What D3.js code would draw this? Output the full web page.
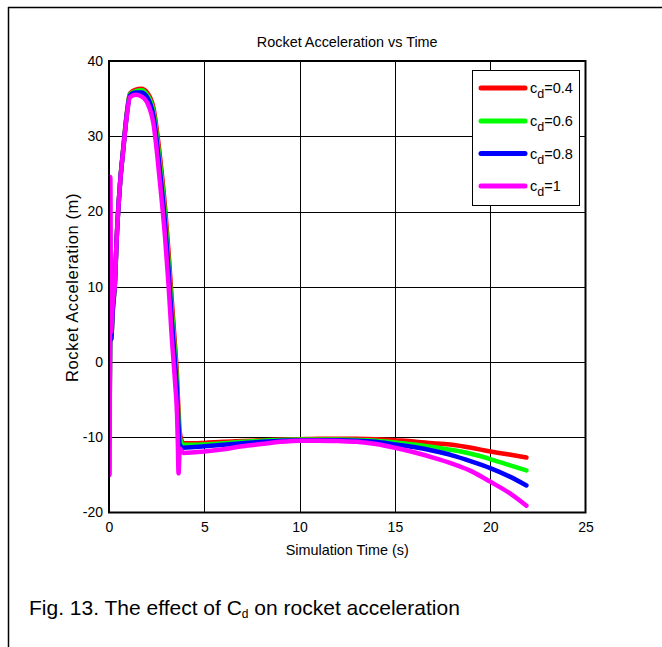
<!DOCTYPE html>
<html><head><meta charset="utf-8">
<script src="https://cdn.jsdelivr.net/npm/d3@7"></script>
<style>
body{margin:0;background:#fff;}
text{font-family:"Liberation Sans",Arial,sans-serif;fill:#000;}
</style></head>
<body><svg id="c" width="662" height="647"></svg>
<script>
const timeS = [0,0.03,0.07,0.11,0.2,0.31,0.4,0.58,0.75,0.93,1.1,1.4,1.7,2.0,2.33,2.68,2.94,3.12,3.29,3.47,3.57,3.61,3.65,3.71,3.9,4.5,5,6,7,8,9,10,11,12,13,14,15,16,17,18,19,20,21,21.9];
const accRed     = [-3,-6,5,3,7,10.5,16.3,23.8,28.5,33,35.7,36.2,36.3,35.8,33.8,27.2,20.6,14.8,8.4,2.0,-2.0,-4.5,-6.5,-9.3,-10.8,-10.8,-10.75,-10.6,-10.5,-10.4,-10.3,-10.25,-10.2,-10.2,-10.2,-10.25,-10.4,-10.55,-10.8,-11.0,-11.4,-11.9,-12.3,-12.7];
const accGreen   = [-3,-6,5,3,7,10.5,16.2,23.8,28.4,32.9,35.6,36.0,36.1,35.5,33.3,26.3,19.6,13.6,7.0,0.9,-3.0,-5.5,-7.5,-10.0,-11.0,-11.0,-10.95,-10.8,-10.6,-10.45,-10.35,-10.3,-10.3,-10.3,-10.35,-10.45,-10.7,-10.95,-11.3,-11.7,-12.2,-12.9,-13.7,-14.4];
const accBlue    = [-3,-6,5,3,7,10.5,16.2,23.7,28.3,32.8,35.4,35.8,35.8,35.2,32.7,25.2,18.4,12.4,5.7,-0.4,-4.2,-6.6,-8.7,-11.0,-11.4,-11.3,-11.2,-11.0,-10.8,-10.6,-10.45,-10.4,-10.4,-10.4,-10.45,-10.6,-10.95,-11.3,-11.8,-12.4,-13.2,-14.1,-15.2,-16.4];
const accMagenta = [-3,-15,24.6,4,8,10.4,16.2,23.7,28.2,32.6,35.2,35.5,35.3,34.5,31.7,23.7,16.6,10.4,3.4,-2.8,-7.0,-10.5,-14.8,-11.5,-12.1,-12.0,-11.9,-11.6,-11.2,-10.9,-10.6,-10.45,-10.45,-10.5,-10.6,-10.9,-11.4,-12.0,-12.7,-13.5,-14.5,-15.9,-17.4,-19.1];
const seriesNames = ["0.4","0.6","0.8","1"];
const seriesColors = ["#ff0000","#00ff00","#0000ff","#ff00ff"];
const seriesValues = [accRed, accGreen, accBlue, accMagenta];
const xTicks = [0,5,10,15,20,25];
const yTicks = [-20,-10,0,10,20,30,40];
const chartTitle = "Rocket Acceleration vs Time";
const xLabel = "Simulation Time (s)";
const yLabel = "Rocket Acceleration (m)";

const svg = d3.select("#c");
svg.append("line").attr("x1",8).attr("x2",662).attr("y1",7.5).attr("y2",7.5).attr("stroke","#000").attr("stroke-width",1.5);
svg.append("line").attr("x1",8.5).attr("x2",8.5).attr("y1",7).attr("y2",647).attr("stroke","#000").attr("stroke-width",1.5);

const L=109, R=585.5, T=61, B=512.5;
const x = d3.scaleLinear().domain([0,25]).range([L,R]);
const y = d3.scaleLinear().domain([-20,40]).range([B,T]);

const g = svg.append("g");
g.selectAll(".gx").data(xTicks.slice(1,-1)).join("line")
  .attr("x1",d=>Math.round(x(d))+0.5).attr("x2",d=>Math.round(x(d))+0.5).attr("y1",T).attr("y2",B)
  .attr("stroke","#000").attr("stroke-width",1);
g.selectAll(".gy").data(yTicks.slice(1,-1)).join("line")
  .attr("y1",d=>Math.round(y(d))+0.5).attr("y2",d=>Math.round(y(d))+0.5).attr("x1",L).attr("x2",R)
  .attr("stroke","#000").attr("stroke-width",1);

const fmt = d=>String(d);
const xAxis = d3.axisBottom(x).tickValues(xTicks).tickFormat(fmt).tickSize(0).tickPadding(10);
const ax = svg.append("g").attr("transform",`translate(0,${B})`).call(xAxis);
ax.select(".domain").remove();
ax.selectAll("text").attr("font-size",14).attr("font-family","Liberation Sans, Arial");
const yAxis = d3.axisLeft(y).tickValues(yTicks).tickFormat(fmt).tickSize(0).tickPadding(6);
const ay = svg.append("g").attr("transform",`translate(${L},0)`).call(yAxis);
ay.select(".domain").remove();
ay.selectAll("text").attr("font-size",14).attr("font-family","Liberation Sans, Arial");

svg.append("clipPath").attr("id","clp").append("rect").attr("x",L).attr("y",T).attr("width",R-L).attr("height",B-T);

const line = d3.line().x((d,i)=>x(timeS[i])).y(d=>y(d)).curve(d3.curveMonotoneX);
svg.append("g").attr("clip-path","url(#clp)").selectAll("path").data(seriesValues).join("path")
  .attr("d",d=>line(d)).attr("fill","none").attr("stroke",(d,i)=>seriesColors[i])
  .attr("stroke-width",4.5).attr("stroke-linejoin","round").attr("stroke-linecap","round");

svg.append("rect").attr("x",L).attr("y",T).attr("width",R-L).attr("height",B-T)
  .attr("fill","none").attr("stroke","#000").attr("stroke-width",2);

const lg = svg.append("g");
lg.append("rect").attr("x",472.5).attr("y",70.5).attr("width",107).attr("height",135)
  .attr("fill","#fff").attr("stroke","#000").attr("stroke-width",1);
const ly = [88,121,153.5,186];
seriesNames.forEach((n,i)=>{
  lg.append("line").attr("x1",481).attr("x2",525).attr("y1",ly[i]).attr("y2",ly[i])
    .attr("stroke",seriesColors[i]).attr("stroke-width",5).attr("stroke-linecap","round");
  const t = lg.append("text").attr("x",530).attr("y",ly[i]+5).attr("font-size",14.5);
  t.append("tspan").text("c");
  t.append("tspan").attr("dy",5).attr("font-size",12.5).text("d");
  t.append("tspan").attr("dy",-5).text("="+n);
});

svg.append("text").attr("x",(L+R)/2).attr("y",47).attr("text-anchor","middle").attr("font-size",14.4).text(chartTitle);
svg.append("text").attr("x",(L+R)/2).attr("y",555).attr("text-anchor","middle").attr("font-size",14.4).text(xLabel);
svg.append("text").attr("transform",`translate(78,287.5) rotate(-90)`).attr("text-anchor","middle")
  .attr("font-size",16.5).attr("letter-spacing",0.6).text(yLabel);

const cap = svg.append("text").attr("x",29).attr("y",615).attr("font-size",21);
cap.append("tspan").text("Fig. 13. The effect of C");
cap.append("tspan").attr("font-size",12).attr("dy",3).text("d");
cap.append("tspan").attr("dy",-3).text(" on rocket acceleration");
</script></body></html>
